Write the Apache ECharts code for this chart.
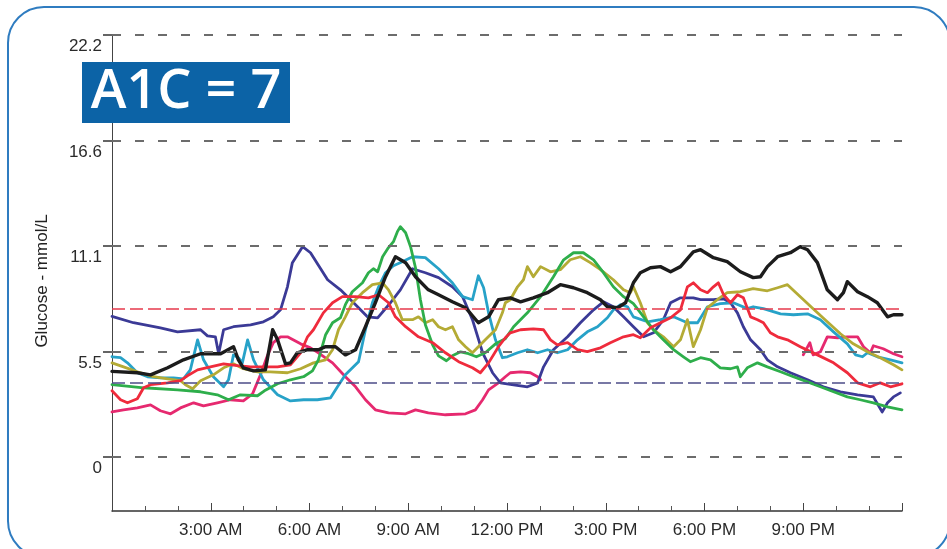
<!DOCTYPE html>
<html>
<head>
<meta charset="utf-8">
<script src="https://cdn.jsdelivr.net/npm/echarts@6/dist/echarts.min.js"></script>
<style>
  html, body { margin: 0; padding: 0; background: #ffffff; }
  #chart { width: 947px; height: 549px; }
</style>
</head>
<body>
<div id="chart"></div>
<script>
// Seven daily glucose traces, [hour of day, mmol/L]
const traceNavy = [
  [0,7.40],[0.65,7.07],[1.47,6.8],[1.99,6.59],[2.69,6.7],[2.9,6.38],[3.14,6.33],[3.24,5.44],[3.39,6.7],
  [3.69,6.86],[4.21,6.96],[4.6,7.12],[4.9,7.38],[5.12,7.75],[5.33,8.96],[5.48,10.23],[5.79,11.07],
  [6.03,10.75],[6.55,9.33],[6.94,8.8],[7.34,8.12],[7.76,7.38],[8.07,7.33],[8.46,8.12],[8.76,8.8],
  [9.13,9.91],[9.52,9.7],[9.92,9.44],[10.34,8.96],[10.65,8.44],[10.95,7.23],[11.26,5.49],[11.56,4.44],
  [11.8,3.91],[12.2,3.8],[12.62,3.7],[12.93,3.91],[13.11,4.75],[13.41,5.65],[13.84,6.33],[14.23,7.07],
  [14.63,7.75],[14.93,8.17],[15.23,7.91],[15.54,7.38],[15.84,6.86],[16.15,6.33],[16.45,6.54],[16.75,7.23],
  [16.97,8.12],[17.27,8.38],[17.66,8.38],[17.88,8.28],[18.27,8.28],[18.58,8.33],[18.79,8.12],[19.0,7.59],
  [19.18,6.86],[19.4,6.17],[19.7,5.65],[19.91,5.12],[20.22,4.75],[20.61,4.44],[21.13,4.07],[21.61,3.7],
  [22.13,3.44],[22.65,3.28],[23.13,3.17],[23.4,2.38],[23.56,2.86],[23.74,3.17],[23.95,3.38]
];
const traceBlack = [
  [0,4.51],[0.77,4.44],[1.17,4.33],[1.69,4.7],[2.17,5.12],[2.69,5.44],[3.3,5.44],[3.69,5.81],[3.84,5.12],
  [3.99,4.7],[4.3,4.54],[4.66,4.59],[4.88,6.7],[5.03,6.17],[5.27,4.91],[5.42,4.96],[5.63,5.49],[5.94,5.65],
  [6.27,5.65],[6.49,5.81],[6.79,5.81],[7.09,5.38],[7.4,5.65],[7.7,6.86],[8.0,8.12],[8.31,9.49],[8.61,10.54],
  [8.92,10.22],[9.22,9.49],[9.61,8.8],[9.92,8.54],[10.34,8.17],[10.74,7.86],[11.13,7.07],[11.44,7.38],
  [11.74,8.28],[12.1,8.38],[12.41,8.17],[12.8,8.38],[13.23,8.65],[13.62,9.07],[14.02,8.91],[14.44,8.65],
  [14.84,8.28],[15.05,7.91],[15.36,7.86],[15.6,8.12],[15.84,9.17],[16.05,9.7],[16.36,9.96],[16.66,10.02],
  [16.97,9.75],[17.27,10.02],[17.66,10.8],[17.88,10.91],[18.27,10.49],[18.69,10.28],[19.09,9.75],
  [19.48,9.44],[19.7,9.49],[19.91,10.02],[20.22,10.54],[20.61,10.75],[20.91,11.07],[21.13,10.91],
  [21.43,10.23],[21.73,8.8],[22.04,8.28],[22.22,8.65],[22.34,9.23],[22.65,8.7],[22.95,8.44],[23.25,8.12],
  [23.56,7.38],[23.74,7.49],[24,7.49]
];
const traceRed = [
  [0,3.49],[0.26,3.02],[0.47,2.86],[0.77,3.07],[0.96,3.65],[1.17,3.81],[1.69,3.91],[2.08,4.02],[2.29,4.28],
  [2.6,4.59],[2.99,4.75],[3.39,4.91],[3.81,4.81],[4.21,4.75],[4.6,4.75],[5.03,4.75],[5.42,4.86],[5.73,5.49],
  [5.94,6.33],[6.12,6.7],[6.42,7.59],[6.7,8.12],[7.0,8.44],[7.4,8.44],[7.79,8.38],[8.1,8.54],[8.4,8.12],
  [8.61,7.38],[8.92,6.86],[9.31,6.33],[9.74,6.02],[10.13,5.49],[10.53,5.02],[10.95,4.7],[11.19,4.44],
  [11.44,4.96],[11.74,5.81],[11.95,6.28],[12.1,6.54],[12.41,6.7],[12.8,6.75],[13.11,6.7],[13.32,6.17],
  [13.53,5.91],[13.84,6.02],[14.14,5.65],[14.44,5.55],[14.84,5.75],[15.14,6.02],[15.54,6.33],[15.84,6.44],
  [16.05,6.28],[16.36,6.8],[16.66,7.07],[16.97,7.33],[17.27,7.75],[17.48,8.96],[17.66,9.17],[17.88,8.8],
  [18.09,8.65],[18.27,8.96],[18.42,9.17],[18.58,8.54],[18.79,8.12],[19.0,8.54],[19.18,8.38],[19.4,7.38],
  [19.61,7.23],[19.79,7.07],[20.0,6.54],[20.22,6.33],[20.52,6.17],[20.91,5.81],[21.43,5.38],[21.92,4.96],
  [22.34,4.44],[22.65,3.91],[23.04,3.7],[23.34,3.91],[23.65,3.7],[24,3.86]
];
const traceMagenta = [
  [0,2.38],[0.35,2.49],[0.77,2.59],[1.17,2.75],[1.47,2.44],[1.78,2.28],[2.08,2.59],[2.48,2.86],[2.78,2.7],
  [3.2,2.86],[3.6,3.02],[3.99,2.96],[4.27,3.33],[4.51,4.33],[4.72,5.33],[4.9,6.02],[5.12,6.33],[5.33,6.33],
  [5.73,5.96],[6.03,5.75],[6.27,5.49],[6.7,4.96],[7.09,4.23],[7.4,3.7],[7.7,3.02],[8.0,2.49],[8.4,2.33],
  [8.92,2.28],[9.22,2.49],[9.61,2.33],[10.13,2.23],[10.74,2.28],[11.04,2.49],[11.26,3.02],[11.44,3.54],
  [11.74,3.91],[11.95,4.23],[12.1,4.44],[12.41,4.49],[12.71,4.44],[12.93,4.23],[13.02,4.07],
  [16.5,null],
  [21.0,5.38],[21.2,6.02],[21.3,5.38],[21.52,5.54],[21.73,6.33],[22.04,6.28],[22.34,6.33],[22.65,6.33],
  [22.83,5.81],[23.04,5.49],[23.13,5.86],[23.43,5.7],[23.74,5.44],[24,5.28]
];
const traceCyan = [
  [0,5.28],[0.26,5.23],[0.47,4.96],[0.77,4.44],[1.08,4.23],[1.47,4.17],[1.87,4.17],[2.17,4.12],[2.38,4.59],
  [2.6,6.17],[2.78,5.12],[3.08,4.23],[3.39,3.7],[3.54,4.07],[3.69,5.38],[3.84,5.23],[3.96,4.96],[4.12,6.17],
  [4.3,5.12],[4.6,4.07],[5.03,3.28],[5.42,2.96],[5.82,3.02],[6.24,3.02],[6.64,3.12],[6.85,3.7],[7.09,4.33],
  [7.49,5.02],[7.7,6.7],[7.91,8.12],[8.1,8.96],[8.31,9.7],[8.55,10.07],[8.82,10.28],[9.13,10.54],[9.52,10.49],
  [9.92,9.91],[10.34,9.17],[10.65,8.44],[10.95,8.28],[11.13,9.54],[11.29,8.91],[11.44,7.59],[11.65,6.17],
  [11.86,5.23],[12.01,5.28],[12.32,5.49],[12.62,5.65],[12.93,5.49],[13.23,5.65],[13.53,5.49],[13.84,5.65],
  [14.14,6.17],[14.44,6.59],[14.75,6.86],[15.05,7.33],[15.23,7.75],[15.45,8.02],[15.66,7.91],[15.84,7.38],
  [16.27,7.12],[16.66,7.23],[17.06,7.38],[17.48,7.07],[17.79,7.07],[18.09,7.91],[18.48,8.07],[18.88,8.12],
  [19.3,7.81],[19.48,7.91],[19.79,7.81],[20.31,7.54],[20.7,7.49],[21.13,7.54],[21.52,7.23],[21.92,6.59],
  [22.34,5.96],[22.59,5.38],[22.8,5.28],[22.95,5.49],[23.25,5.28],[23.65,5.12],[24,4.96]
];
const traceOlive = [
  [0,4.96],[0.35,4.75],[0.77,4.49],[1.26,4.23],[1.69,4.12],[2.08,4.02],[2.23,3.81],[2.45,3.6],[2.69,4.02],
  [3.08,4.33],[3.39,4.7],[3.69,4.91],[3.99,4.65],[4.42,4.49],[4.81,4.49],[5.33,4.44],[5.73,4.65],[6.12,4.96],
  [6.49,5.12],[6.7,5.65],[6.88,6.7],[7.09,7.38],[7.3,8.12],[7.61,8.65],[7.91,9.07],[8.22,9.17],[8.4,8.8],
  [8.61,8.12],[8.82,7.23],[9.13,7.23],[9.31,7.38],[9.52,7.07],[9.74,7.23],[9.92,6.86],[10.13,6.7],[10.34,6.86],
  [10.53,6.17],[10.74,5.81],[10.95,5.49],[11.13,5.81],[11.34,6.17],[11.65,6.7],[11.86,7.59],[11.95,8.12],
  [12.1,8.28],[12.32,8.96],[12.5,9.33],[12.62,10.02],[12.8,9.49],[13.02,10.02],[13.32,9.75],[13.62,9.86],
  [13.92,10.38],[14.23,10.54],[14.53,10.23],[14.84,9.86],[15.23,9.33],[15.54,8.8],[15.75,8.65],[15.84,8.96],
  [16.05,8.12],[16.27,7.07],[16.45,6.7],[16.75,6.33],[17.06,5.81],[17.27,6.17],[17.48,7.23],[17.66,5.81],
  [17.88,6.7],[18.09,7.86],[18.39,8.28],[18.69,8.65],[19.09,8.7],[19.48,8.86],[19.91,8.75],[20.22,8.91],
  [20.52,9.07],[20.91,8.44],[21.3,7.81],[21.73,7.12],[22.13,6.49],[22.52,5.96],[22.95,5.54],[23.34,5.23],
  [23.74,4.86],[24,4.59]
];
const traceGreen = [
  [0,3.81],[0.96,3.65],[1.99,3.54],[2.69,3.44],[3.2,3.28],[3.54,3.02],[3.9,3.28],[4.42,3.23],[4.63,3.49],
  [5.03,3.86],[5.42,4.07],[5.82,4.23],[6.09,4.54],[6.27,5.12],[6.49,6.44],[6.7,7.07],[6.94,7.33],[7.09,8.02],
  [7.3,8.7],[7.61,9.17],[7.79,9.7],[7.94,9.91],[8.07,9.75],[8.22,10.54],[8.4,11.02],[8.55,11.33],[8.67,11.86],
  [8.76,12.12],[8.92,11.8],[9.07,11.07],[9.22,9.96],[9.37,8.28],[9.52,6.96],[9.74,5.91],[9.92,5.33],
  [10.16,5.07],[10.34,5.33],[10.59,5.54],[10.83,5.44],[11.07,5.28],[11.34,5.49],[11.65,5.96],[11.95,6.23],
  [12.2,6.86],[12.62,7.59],[13.02,8.44],[13.41,9.49],[13.72,10.38],[14.02,10.75],[14.32,10.75],[14.63,10.38],
  [14.93,9.7],[15.23,8.96],[15.54,8.44],[15.84,8.07],[16.15,7.38],[16.45,6.7],[16.75,6.17],[17.06,5.65],
  [17.36,5.28],[17.57,5.02],[17.88,5.23],[18.18,5.12],[18.48,4.7],[18.79,4.65],[19.0,4.75],[19.09,4.23],
  [19.3,4.7],[19.61,4.96],[19.91,4.75],[20.31,4.49],[20.7,4.23],[21.13,3.96],[21.52,3.7],[21.92,3.44],
  [22.34,3.17],[22.73,3.02],[23.13,2.86],[23.56,2.65],[24,2.49]
];

// Axis ticks and labels
const yTickValues = [0, 5.55, 11.1, 16.65, 22.2];
const yTickLabels = ['0', '5.5', '11.1', '16.6', '22.2'];
const xTickValues = [3, 6, 9, 12, 15, 18, 21];
const xTickLabels = ['3:00 AM', '6:00 AM', '9:00 AM', '12:00 PM', '3:00 PM', '6:00 PM', '9:00 PM'];

// Target range limits (mmol/L)
const targetHigh = 7.8;
const targetLow = 3.9;

const traces = [
  { name: 'magenta', color: '#e6296f', data: traceMagenta, width: 2.8 },
  { name: 'navy',    color: '#3b3a96', data: traceNavy,    width: 2.8 },
  { name: 'cyan',    color: '#27a2c8', data: traceCyan,    width: 2.8 },
  { name: 'olive',   color: '#b4ab35', data: traceOlive,   width: 2.8 },
  { name: 'green',   color: '#2eae4b', data: traceGreen,   width: 2.8 },
  { name: 'red',     color: '#ef2b3c', data: traceRed,     width: 2.8 },
  { name: 'black',   color: '#1c1c1c', data: traceBlack,   width: 3.4 }
];

const chart = echarts.init(document.getElementById('chart'), null, { renderer: 'canvas' });

const gridDash = { color: '#6c6c6c', width: 2, type: [9, 14] };
const guideLines = yTickValues.map(v => ({ yAxis: v, lineStyle: gridDash }));
guideLines.push({ yAxis: targetHigh, lineStyle: { color: '#e63a4c', width: 1.5, type: [13, 5] } });
guideLines.push({ yAxis: targetLow, lineStyle: { color: '#4c4c88', width: 1.5, type: [13, 5] } });

const series = [{
  type: 'line',
  name: 'guides',
  data: [],
  silent: true,
  z: 1,
  markLine: {
    silent: true,
    symbol: ['none', 'none'],
    label: { show: false },
    emphasis: { disabled: true },
    animation: false,
    data: guideLines
  }
}].concat(traces.map(t => ({
  type: 'line',
  name: t.name,
  data: t.data,
  showSymbol: false,
  symbol: 'none',
  smooth: false,
  connectNulls: false,
  z: 3,
  lineStyle: { color: t.color, width: t.width, join: 'round', cap: 'round' },
  itemStyle: { color: t.color }
})));

const option = {
  animation: false,
  backgroundColor: '#ffffff',
  grid: { left: 112, right: 45, top: 35, bottom: 38, containLabel: false },
  xAxis: {
    type: 'value',
    min: 0,
    max: 24,
    interval: 3,
    axisLine: { show: true, onZero: false, lineStyle: { color: '#333333', width: 1.5 } },
    axisTick: { show: true, inside: true, length: 8, lineStyle: { color: '#444444', width: 1 } },
    minorTick: { show: true, splitNumber: 3, length: 5, lineStyle: { color: '#555555', width: 1 } },
    splitLine: { show: false },
    axisLabel: {
      margin: 11,
      color: '#2a2a2a',
      fontFamily: 'Liberation Sans, Arial, sans-serif',
      fontSize: 17,
      formatter: v => {
        const i = xTickValues.indexOf(v);
        return i >= 0 ? xTickLabels[i] : '';
      }
    }
  },
  yAxis: {
    type: 'value',
    min: -2.83,
    max: 22.2,
    axisLine: { show: true, onZero: false, lineStyle: { color: '#444444', width: 1 } },
    axisTick: { show: true, length: 9, customValues: yTickValues, lineStyle: { color: '#333333', width: 1.5 } },
    splitLine: { show: false },
    axisLabel: {
      customValues: yTickValues,
      margin: 10,
      color: '#2a2a2a',
      fontFamily: 'Liberation Sans, Arial, sans-serif',
      fontSize: 17,
      verticalAlign: 'top',
      padding: [3, 0, 0, 0],
      formatter: v => {
        const i = yTickValues.findIndex(t => Math.abs(t - v) < 1e-6);
        return i >= 0 ? yTickLabels[i] : '';
      }
    }
  },
  graphic: [
    {
      type: 'rect',
      z: 0,
      silent: true,
      shape: { x: 8, y: 7, width: 942, height: 550, r: 36 },
      style: { fill: 'none', stroke: '#2f7cc0', lineWidth: 2 }
    },
    {
      type: 'text',
      z: 10,
      silent: true,
      x: 42,
      y: 281,
      rotation: Math.PI / 2,
      style: {
        text: 'Glucose - mmol/L',
        fill: '#222222',
        font: '17px "Liberation Sans", Arial, sans-serif',
        align: 'center',
        verticalAlign: 'middle'
      }
    },
    {
      type: 'rect',
      z: 10,
      silent: true,
      shape: { x: 82, y: 62, width: 208, height: 61 },
      style: { fill: '#0c63a6' }
    },
    {
      type: 'text',
      z: 11,
      silent: true,
      x: 186,
      y: 93,
      style: {
        text: 'A1C = 7',
        fill: '#ffffff',
        font: '600 54px "Open Sans", sans-serif',
        align: 'center',
        verticalAlign: 'middle'
      }
    }
  ],
  series: series
};

chart.setOption(option);
</script>
</body>
</html>
